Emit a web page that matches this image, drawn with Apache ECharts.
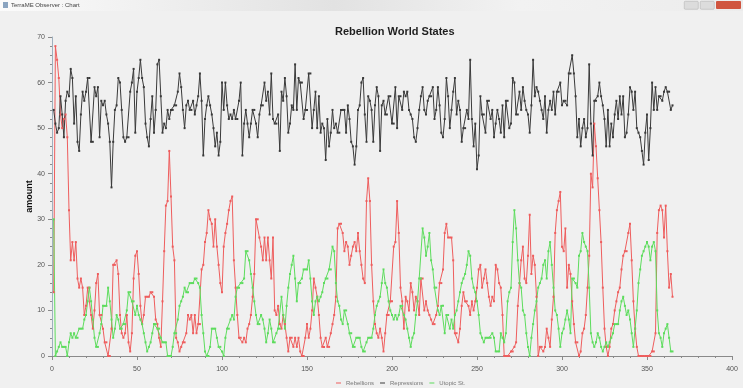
<!DOCTYPE html>
<html>
<head>
<meta charset="utf-8">
<script src="https://cdn.jsdelivr.net/npm/echarts@6/dist/echarts.min.js"></script>
<style>
  html, body { margin: 0; padding: 0; background: #f0f0f0; }
  #chart { width: 743px; height: 388px; }
</style>
</head>
<body>
<div id="chart"></div>
<script>
// time steps start at 1
const firstStep = 1;

const rebellions = [
  14,68,65,61,53,50,52,53,48,32, 21,25,21,25,17,15,17,15,9,11,
  15,15,9,6,10,16,18,9,9,6, 3,3,0,0,6,20,20,21,18,9,
  5,4,5,9,3,1,5,17,22,23, 18,11,7,9,13,13,13,14,14,13,
  8,7,4,2,12,23,33,34,45,35, 24,21,4,3,1,2,3,3,5,9,
  8,9,5,9,5,7,7,19,20,25, 27,32,30,29,24,30,24,20,16,14,
  24,27,29,32,34,35,21,15,9,4, 4,3,4,3,6,7,9,13,18,30,
  30,26,
  24,21,26,21,26,21,17,26,10,9, 11,7,6,9,7,4,1,4,4,2,
  4,2,4,1,0,0,4,7,4,6, 10,17,15,13,9,4,2,2,4,2,
  2,5,7,9,13,28,29,29,27,23, 25,24,20,22,24,25,23,27,23,20,
  17,16,34,39,34,20,12,7,5,4, 6,4,1,5,9,9,12,12,24,25,
  34,27,15,12,6,13,12,10,16,14, 10,13,12,9,17,17,10,12,10,9,
  8,7,7,9,11,16,16,19,27,29, 26,26,26,21,5,5,3,6,11,14,
  12,12,11,9,12,10,12,15,19,20, 15,17,19,16,13,11,13,12,20,19,
  16,15,9,0,0,0,0,1,1,2, 3,11,16,21,24,17,16,22,31,18,
  22,20,13,0,2,2,1,2,6,4, 2,8,13,27,32,34,36,24,23,28,
  15,20,18,12,7,3,3,0,1,5, 6,9,15,22,40,37,51,46,39,32,
  25,15,6,2,0,2,6,7,10,12, 14,15,19,22,23,23,27,29,21,12,
  6,2,0,0,0,0,0,0,0,0, 1,1,5,27,32,33,32,26,33,23,
  15,18,13
];

const repressions = [
  54,51,49,50,57,53,48,56,58,57, 63,61,51,57,47,45,53,58,56,58,
  61,61,47,47,59,57,59,48,56,55, 56,53,51,47,37,47,54,55,61,60,
  54,48,47,48,48,58,60,63,49,58, 61,65,61,59,51,48,46,52,57,49,
  54,64,65,57,49,51,50,54,52,54, 54,55,55,58,62,59,54,50,55,56,
  54,54,56,53,55,57,62,56,44,52, 55,57,55,53,50,46,49,44,47,60,
  54,60,55,52,53,52,54,52,52,56, 60,44,51,54,51,48,51,54,54,51,
  48,53,
  55,55,60,56,58,53,62,52,51,51, 53,45,58,56,61,57,49,51,55,54,
  64,54,61,60,60,52,54,54,62,62, 50,54,58,50,57,49,51,50,43,52,
  46,49,54,50,51,49,49,54,54,54, 49,55,52,47,46,42,46,54,55,60,
  61,53,47,57,56,54,47,55,59,57, 45,55,56,53,53,57,57,51,51,59,
  50,57,57,54,58,57,58,54,53,52, 48,47,50,54,57,59,54,53,56,57,
  57,59,52,54,59,55,49,48,52,61, 57,50,54,58,61,53,56,54,47,50,
  50,54,52,65,52,46,51,41,44,57, 53,53,49,56,56,52,54,48,51,54,
  52,
  49,55,48,56,56,50,51,61,60,53, 53,58,54,59,56,54,53,49,55,65,
  57,59,58,56,54,52,57,49,54,56, 54,58,53,58,58,60,55,56,56,55,
  62,62,66,62,57,48,52,46,50,52, 48,50,64,51,44,56,56,57,60,57,
  55,52,46,54,46,51,48,53,56,52, 57,53,57,48,49,53,59,58,54,58,
  50,49,48,45,42,49,53,43,50,60, 54,59,54,57,57,56,58,59,58,58,
  54,55
];

const utopicSt = [
  30,0,1,2,3,2,2,2,0,3, 5,4,5,4,4,6,6,6,8,9,
  12,15,12,8,4,2,2,5,7,11, 11,11,15,12,8,4,6,9,8,6,
  6,7,7,10,14,14,12,12,9,11, 9,8,7,5,3,1,2,3,5,7,
  7,6,6,4,3,3,3,0,0,0, 2,5,5,8,11,12,13,15,14,14,
  16,16,16,17,17,16,15,9,5,1, 0,0,2,6,6,6,4,2,2,1,
  0,4,6,6,8,9,8,13,15,15, 16,16,17,23,23,21,18,15,12,9,
  7,7,
  9,8,6,3,5,8,6,3,3,5, 6,6,13,9,6,11,15,18,20,22,
  17,12,16,16,17,19,19,19,21,17, 12,9,12,13,12,13,14,16,17,17,
  19,19,24,23,16,12,11,8,7,10, 10,7,5,5,2,2,4,4,4,2,
  1,1,3,4,4,4,6,9,11,12, 13,16,19,16,15,12,10,9,8,9,
  8,9,11,11,9,8,6,4,2,4, 5,9,12,17,17,28,26,22,24,27,
  21,19,15,15,10,9,11,11,5,9, 9,6,8,6,9,10,12,14,16,17,
  18,20,23,22,17,15,14,12,9,5, 4,3,
  4,4,4,4,5,4,1,1,1,5, 4,3,5,12,14,15,25,32,28,21,
  16,15,10,9,5,2,0,4,7,10, 12,15,16,17,20,21,17,23,25,20,
  15,10,9,6,2,5,6,8,10,8, 5,17,17,16,15,22,23,27,25,24,
  23,15,5,3,2,3,5,4,2,1, 2,3,2,3,4,5,7,7,7,10,
  12,13,11,9,10,8,5,2,6,10, 16,19,22,23,24,25,24,21,24,25,
  23,10,5,4,2,5,6,7,4,1, 1
];

const seriesNames = ['Rebellions', 'Repressions', 'Utopic St.'];
const seriesColors = ['#ee5d5d', '#3a3a3a', '#5ddc5d'];
const xTicks = { min: 0, max: 400, interval: 50 };
const yTicks = { min: 0, max: 70, interval: 10 };

function toPoints(values) {
  return values.map((v, i) => [firstStep + i, v]);
}

const chart = echarts.init(document.getElementById('chart'));
const font = 'Liberation Sans';

chart.setOption({
  backgroundColor: '#f0f0f0',
  animation: false,
  title: {
    text: 'Rebellion World States',
    left: 330,
    top: 21,
    textStyle: { fontFamily: font, fontSize: 11, fontWeight: 'bold', color: '#1e1e1e' }
  },
  // window caption strip
  graphic: [
    {
      type: 'rect', left: 0, top: 0, silent: true,
      shape: { width: 743, height: 11 },
      style: {
        fill: new echarts.graphic.LinearGradient(0, 0, 1, 0, [
          { offset: 0, color: '#fbfbfb' },
          { offset: 0.45, color: '#e2e2e2' },
          { offset: 0.7, color: '#f2f2f2' },
          { offset: 1, color: '#ececec' }
        ])
      }
    },
    { type: 'rect', left: 3, top: 2, shape: { width: 5, height: 6 }, style: { fill: '#8aa4c0' } },
    {
      type: 'text', left: 11, top: 2,
      style: { text: 'TerraME Observer : Chart', fontFamily: font, fontSize: 6, fill: '#444' }
    },
    { type: 'rect', left: 684, top: 1, shape: { width: 14, height: 8, r: 1 }, style: { fill: '#dcdcdc', stroke: '#aaa', lineWidth: 0.5 } },
    { type: 'rect', left: 700, top: 1, shape: { width: 14, height: 8, r: 1 }, style: { fill: '#dcdcdc', stroke: '#aaa', lineWidth: 0.5 } },
    { type: 'rect', left: 716, top: 1, shape: { width: 25, height: 8, r: 1 }, style: { fill: '#d0553f' } }
  ],
  legend: {
    data: seriesNames,
    left: 331,
    top: 375,
    itemWidth: 5,
    itemHeight: 1,
    itemGap: 6,
    icon: 'rect',
    textStyle: { fontFamily: font, fontSize: 6, color: '#777' }
  },
  grid: { left: 52, right: 11, top: 37, bottom: 32 },
  xAxis: {
    type: 'value',
    min: xTicks.min,
    max: xTicks.max,
    interval: xTicks.interval,
    offset: 4,
    axisLine: { lineStyle: { color: '#8a8a8a', width: 1 } },
    axisTick: { length: 4, lineStyle: { color: '#8a8a8a' } },
    minorTick: { show: true, splitNumber: 5, length: 2, lineStyle: { color: '#8a8a8a' } },
    splitLine: { show: false },
    axisLabel: { fontFamily: font, fontSize: 7, color: '#555', margin: 6 }
  },
  yAxis: {
    type: 'value',
    min: yTicks.min,
    max: yTicks.max,
    interval: yTicks.interval,
    offset: 2,
    name: 'amount',
    nameLocation: 'middle',
    nameRotate: 90,
    nameGap: 16,
    nameMoveOverlap: false,
    nameTextStyle: { fontFamily: font, fontSize: 9, fontWeight: 'bold', color: '#111' },
    axisLine: { show: true, lineStyle: { color: '#9fb0bf', width: 1 } },
    axisTick: { show: true, length: 4, lineStyle: { color: '#8a8a8a' } },
    minorTick: { show: true, splitNumber: 5, length: 2, lineStyle: { color: '#8a8a8a' } },
    splitLine: { show: false },
    axisLabel: { fontFamily: font, fontSize: 7, color: '#555', margin: 5 }
  },
  series: [rebellions, repressions, utopicSt].map((vals, k) => ({
    name: seriesNames[k],
    type: 'line',
    data: toPoints(vals),
    color: seriesColors[k],
    symbol: 'rect',
    symbolSize: 2,
    showAllSymbol: true,
    lineStyle: { width: 1, color: seriesColors[k] },
    itemStyle: { color: seriesColors[k] },
    emphasis: { disabled: true }
  }))
});
</script>
</body>
</html>
